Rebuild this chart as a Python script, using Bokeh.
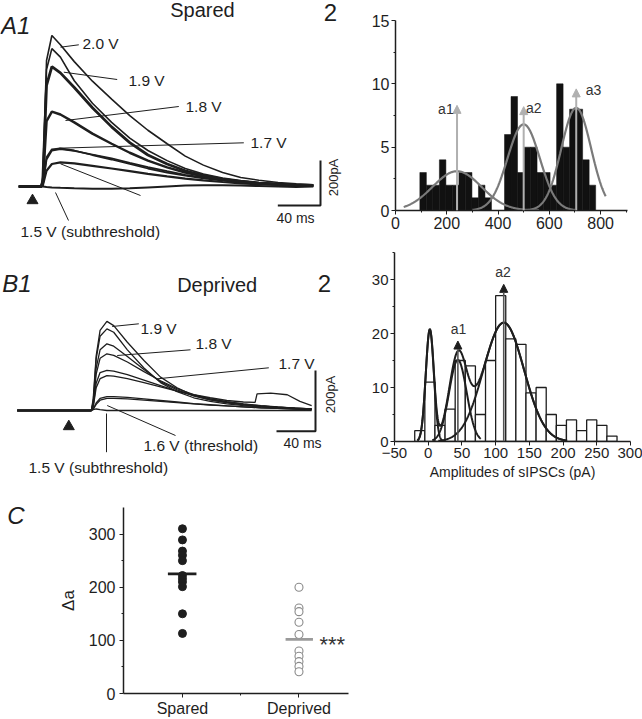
import numpy as np
from bokeh.plotting import figure
from bokeh.layouts import column, row
from bokeh.models import Range1d, Label, Arrow, NormalHead, FixedTicker
from bokeh.embed import file_html
from bokeh.resources import INLINE

FONT = "Liberation Sans"
INK = "#1e1e1e"

# ---------------- data ----------------
# A1 (Spared): evoked IPSCs, time (ms) vs current (pA)
a1_time = [0, 21, 22.5, 26, 31, 39, 52, 69, 87, 104, 121, 139, 156, 173, 191, 208, 225, 243, 260, 276]
a1_2p0 = [0, 0, 40, 560, 671, 630, 555, 468, 388, 315, 250, 190, 135, 95, 62, 40, 28, 18, 12, 8]
a1_1p95 = [0, 0, 30, 520, 613, 575, 470, 370, 285, 215, 160, 115, 80, 55, 38, 26, 18, 12, 8, 5]
a1_1p9 = [0, 0, 25, 450, 533, 505, 440, 350, 265, 195, 140, 100, 70, 48, 33, 22, 15, 10, 7, 5]
a1_1p8 = [0, 0, 15, 290, 333, 320, 285, 235, 190, 150, 115, 85, 62, 45, 32, 22, 15, 10, 7, 5]
a1_1p7a = [0, 0, 8, 130, 165, 169, 160, 140, 120, 100, 80, 62, 48, 36, 26, 18, 12, 8, 5, 3]
a1_1p7b = [0, 0, 6, 120, 160, 166, 158, 142, 125, 105, 86, 68, 52, 40, 30, 22, 15, 10, 6, 4]
a1_1p6 = [0, 0, 5, 70, 100, 107, 103, 92, 80, 68, 56, 45, 35, 27, 20, 14, 10, 7, 5, 3]
a1_1p5 = [0, 0, 0, -2, -4, -6, -8, -10, -10, -8, -4, 0, 4, 6, 6, 4, 2, 0, -2, 0]

# B1 (Deprived)
b1_time = [0, 76, 78, 81, 85, 92, 99, 113, 130, 147, 164, 181, 198, 215, 232, 250, 267, 285, 302]
b1_1p9a = [0, 0, 40, 180, 264, 294, 280, 225, 165, 110, 75, 49, 35, 26, 19, 14, 11, 8, 5]
b1_1p9b = [0, 0, 30, 170, 245, 269, 258, 200, 140, 92, 62, 42, 30, 22, 16, 12, 9, 6, 4]
b1_1p8a = [0, 0, 25, 140, 200, 220, 212, 178, 135, 95, 68, 48, 35, 26, 19, 14, 10, 7, 5]
b1_1p8b = [0, 0, 20, 120, 172, 187, 182, 160, 128, 98, 72, 52, 38, 28, 21, 15, 11, 8, 5]
b1_1p7a = [0, 0, 15, 90, 125, 132, 130, 118, 100, 82, 64, 50, 38, 29, 22, 16, 12, 8, 5]
b1_1p6a = [0, 0, 5, 25, 40, 46, 46, 43, 38, 33, 28, 23, 19, 15, 12, 9, 7, 5, 3]
b1_1p6b = [0, 0, 4, 20, 34, 40, 40, 38, 34, 30, 26, 22, 18, 15, 12, 9, 7, 5, 3]
b1_1p5 = [0, 0, 3, 5, 3, 0, 0, 0, 0, 0, 0, 0, 0, 0, 0, 0, 0, 0, 0]
b1_event_time = [0, 76, 78, 81, 85, 92, 99, 113, 130, 147, 164, 181, 198, 215, 232, 244, 246, 260, 277, 290, 302]
b1_1p7b = [0, 0, 12, 75, 105, 115, 113, 105, 92, 78, 64, 52, 42, 33, 28, 27, 55, 57, 52, 30, 16]

# A2 histogram (Spared) amplitudes (pA), counts
a2_bin_start = 95
a2_bin_width = 25.4
a2_counts = [3, 2, 2, 4, 2, 2, 3, 3, 1, 2, 1, 0, 0, 6, 9, 3, 5, 5, 3, 3, 2, 10, 5, 8, 8, 4, 2]
a2_fit_mean = [240, 500, 705]
a2_fit_sd = [95, 63, 58]
a2_fit_peak = [3.1, 6.8, 8.1]
a2_fit_lo = [32, 300, 480]
a2_fit_hi = [560, 700, 820]
a2_peak_names = ["a1", "a2", "a3"]
a2_arrow_top = [8.3, 8.2, 9.6]
a2_xticks = [0, 200, 400, 600, 800]
a2_yticks = [0, 5, 10, 15]

# B2 histogram (Deprived)
b2_bin_start = -20
b2_bin_width = 15
b2_counts = [2, 11, 3, 6, 15, 14, 5, 15, 27, 19, 18, 9, 10, 5, 3, 4, 2, 4, 3, 1]
b2_fit_mean = [2.4, 44, 112]
b2_fit_sd = [6, 13, 30]
b2_fit_peak = [20.7, 15.1, 22]
b2_fit_lo = [-16, 6, 15]
b2_fit_hi = [21, 78, 206]
b2_arrow_x = [44, 112]
b2_arrow_top = [18.6, 29.1]
b2_peak_names = ["a1", "a2"]
b2_xticks = [-50, 0, 50, 100, 150, 200, 250, 300]
b2_yticks = [0, 10, 20, 30]

# C: delta a per cell
c_groups = ["Spared", "Deprived"]
c_spared = [310, 289, 268, 260, 250, 222, 216, 210, 201, 150, 113]
c_deprived = [200, 161, 154, 134, 111, 80, 70, 60, 51, 41]
c_means = [225, 102]
c_yticks = [0, 100, 200, 300]


# ---------------- helpers ----------------
def blank(w, h, xr, yr):
    p = figure(width=w, height=h, x_range=xr, y_range=yr, output_backend="svg",
               toolbar_location=None, title=None, min_border=0, frame_align=False,
               x_axis_type=None, y_axis_type=None)
    p.grid.visible = False
    p.outline_line_color = None
    return p


def lab(p, x, y, text, size, align="left", baseline="middle", style="normal", angle=0.0, color=INK):
    p.add_layout(Label(x=x, y=y, text=text, text_font=FONT, text_font_size=size,
                       text_align=align, text_baseline=baseline, text_font_style=style,
                       angle=angle, text_color=color))


def style_axes(p, size):
    for ax in list(p.xaxis) + list(p.yaxis):
        ax.axis_line_color = INK
        ax.axis_line_width = 1.5
        ax.major_tick_line_color = INK
        ax.minor_tick_line_color = INK
        ax.major_tick_in = 0
        ax.major_tick_out = 4
        ax.minor_tick_in = 0
        ax.minor_tick_out = 2
        ax.major_label_text_font = FONT
        ax.major_label_text_font_size = size
        ax.major_label_text_color = INK
        ax.major_label_standoff = 2
    p.grid.visible = False
    p.outline_line_color = None


def gauss(mu, sd, pk, lo, hi):
    x = np.linspace(lo, hi, 240)
    return x, pk * np.exp(-((x - mu) ** 2) / (2 * sd ** 2))


# ---------------- A1 ----------------
ax_ = lambda px: (px - 18.3) / 1.067
ay_ = lambda py: (186 - py) / 0.225
pA1 = blank(368, 240, Range1d(ax_(0), ax_(368)), Range1d(ay_(240), ay_(0)))
for ys, w in [(a1_1p5, 2.0), (a1_1p6, 2.2), (a1_1p7a, 1.8), (a1_1p7b, 1.8), (a1_1p8, 2.5),
              (a1_1p9, 2.8), (a1_1p95, 1.6), (a1_2p0, 1.6)]:
    pA1.line(a1_time, ys, line_color=INK, line_width=w)
pA1.segment(x0=[ax_(60), ax_(63.3), ax_(65), ax_(58.3), ax_(60), ax_(55)],
            y0=[ay_(46.7), ay_(71.7), ay_(120), ay_(147.7), ay_(163.3), ay_(192)],
            x1=[ax_(78.3), ax_(116.7), ax_(178.3), ax_(243.3), ax_(140), ax_(68)],
            y1=[ay_(44.3), ay_(79), ay_(106), ay_(142.3), ay_(195), ay_(220)],
            line_color=INK, line_width=1)
sbx, sby = ax_(320), ay_(205)
pA1.line([sbx - 40, sbx, sbx], [sby, sby, sby + 200], line_color=INK, line_width=2)
pA1.scatter([ax_(32)], [ay_(200)], marker="triangle", size=11, color=INK)
lab(pA1, ax_(0.5), ay_(25), "A1", "24px", style="italic")
lab(pA1, ax_(202), ay_(9.5), "Spared", "20px", align="center")
lab(pA1, ax_(330), ay_(12), "2", "24px", align="center")
for txt, px, py in [("2.0 V", 82, 43), ("1.9 V", 128, 80), ("1.8 V", 185, 106), ("1.7 V", 250, 142),
                    ("1.5 V (subthreshold)", 20, 231)]:
    lab(pA1, ax_(px), ay_(py), txt, "15.5px")
lab(pA1, ax_(333), ay_(177), "200pA", "13px", align="center", angle=np.pi / 2)
lab(pA1, ax_(295), ay_(217), "40 ms", "14px", align="center")

# ---------------- B1 ----------------
bx_ = lambda px: (px - 16.7) / 0.975
by_ = lambda py: (410 - py) / 0.3033
pB1 = blank(368, 242, Range1d(bx_(0), bx_(368)), Range1d(by_(482), by_(240)))
for ys in [b1_1p5, b1_1p6b, b1_1p6a, b1_1p7a, b1_1p8b, b1_1p8a, b1_1p9b, b1_1p9a]:
    pB1.line(b1_time, ys, line_color=INK, line_width=1.3)
pB1.line(b1_event_time, b1_1p7b, line_color=INK, line_width=1.3)
pB1.segment(x0=[bx_(111.7), bx_(116.7), bx_(156.7), bx_(106.7), bx_(106)],
            y0=[by_(326), by_(355), by_(378.3), by_(405), by_(413)],
            x1=[bx_(138.3), bx_(190), bx_(268.3), bx_(175), bx_(106)],
            y1=[by_(323.3), by_(349.3), by_(367.3), by_(435), by_(451.7)],
            line_color=INK, line_width=1)
sbx, sby = bx_(315), by_(430.7)
pB1.line([sbx - 40, sbx, sbx], [sby, sby, sby + 200], line_color=INK, line_width=2)
pB1.scatter([bx_(68.3)], [by_(426)], marker="triangle", size=11, color=INK)
lab(pB1, bx_(1.7), by_(282.5), "B1", "24px", style="italic")
lab(pB1, bx_(216.7), by_(284), "Deprived", "20px", align="center")
lab(pB1, bx_(324), by_(283), "2", "24px", align="center")
for txt, px, py in [("1.9 V", 140, 328), ("1.8 V", 195, 343.3), ("1.7 V", 278, 362.5),
                    ("1.6 V (threshold)", 143, 445), ("1.5 V (subthreshold)", 28, 466.7)]:
    lab(pB1, bx_(px), by_(py), txt, "15.5px")
lab(pB1, bx_(330), by_(394), "200pA", "13px", align="center", angle=np.pi / 2)
lab(pB1, bx_(302), by_(442), "40 ms", "14px", align="center")

# ---------------- A2 ----------------
pA2 = figure(width=274, height=240, x_range=Range1d(0, 905), y_range=Range1d(0, 15),
             output_backend="svg", toolbar_location=None, title=None, frame_align=False,
             min_border_left=25, min_border_right=15, min_border_top=20, min_border_bottom=30)
left = [a2_bin_start + i * a2_bin_width for i in range(len(a2_counts))]
pA2.quad(left=left, right=[l + a2_bin_width for l in left], bottom=0, top=a2_counts,
         fill_color="#111111", line_color="#111111", line_width=0.5)
for i, nm in enumerate(a2_peak_names):
    pA2.add_layout(Arrow(end=NormalHead(size=8, fill_color="#b0b0b0", line_color="#b0b0b0"),
                         x_start=a2_fit_mean[i], y_start=0, x_end=a2_fit_mean[i], y_end=a2_arrow_top[i],
                         line_color="#b0b0b0", line_width=2))
for mu, sd, pk, lo, hi in zip(a2_fit_mean, a2_fit_sd, a2_fit_peak, a2_fit_lo, a2_fit_hi):
    gx, gy = gauss(mu, sd, pk, lo, hi)
    pA2.line(gx, gy, line_color="#7a7a7a", line_width=2.2)
lab(pA2, 227, 8.05, "a1", "14px", align="right", color="#333333")
lab(pA2, 509, 8.1, "a2", "14px", color="#333333")
lab(pA2, 742, 9.5, "a3", "14px", color="#333333")
pA2.xaxis.ticker = FixedTicker(ticks=a2_xticks, minor_ticks=[100, 300, 500, 700, 900])
pA2.yaxis.ticker = FixedTicker(ticks=a2_yticks, minor_ticks=[2.5, 7.5, 12.5])
style_axes(pA2, "16px")

# ---------------- B2 ----------------
pB2 = figure(width=274, height=242, x_range=Range1d(-50, 300), y_range=Range1d(0, 35),
             output_backend="svg", toolbar_location=None, title=None, frame_align=False,
             min_border_left=26, min_border_right=12, min_border_top=12, min_border_bottom=41)
left = [b2_bin_start + i * b2_bin_width for i in range(len(b2_counts))]
pB2.quad(left=left, right=[l + b2_bin_width for l in left], bottom=0, top=b2_counts,
         fill_color="white", line_color=INK, line_width=1.3)
for i, nm in enumerate(b2_peak_names):
    pB2.add_layout(Arrow(end=NormalHead(size=8, fill_color=INK, line_color=INK),
                         x_start=b2_arrow_x[i], y_start=0, x_end=b2_arrow_x[i], y_end=b2_arrow_top[i],
                         line_color="#555555", line_width=1.6))
sx = np.linspace(-16, 206, 400)
sy = np.zeros_like(sx)
for mu, sd, pk, lo, hi in zip(b2_fit_mean, b2_fit_sd, b2_fit_peak, b2_fit_lo, b2_fit_hi):
    gx, gy = gauss(mu, sd, pk, lo, hi)
    pB2.line(gx, gy, line_color=INK, line_width=2)
    sy = sy + pk * np.exp(-((sx - mu) ** 2) / (2 * sd ** 2))
pB2.line(sx, sy, line_color=INK, line_width=2)
lab(pB2, 45, 20.8, "a1", "14px", align="center", color="#333333")
lab(pB2, 111, 31.4, "a2", "14px", align="center", color="#333333")
pB2.xaxis.ticker = FixedTicker(ticks=b2_xticks)
pB2.yaxis.ticker = FixedTicker(ticks=b2_yticks, minor_ticks=[5, 15, 25, 35])
style_axes(pB2, "15px")
pB2.xaxis.axis_label = "Amplitudes of sIPSCs (pA)"
pB2.xaxis.axis_label_text_font = FONT
pB2.xaxis.axis_label_text_font_size = "14px"
pB2.xaxis.axis_label_text_font_style = "normal"
pB2.xaxis.axis_label_text_color = INK
pB2.xaxis.axis_label_standoff = 3

# ---------------- C ----------------
pCL = blank(50, 237, Range1d(0, 50), Range1d(719, 482))
lab(pCL, 6.7, 515, "C", "24px", style="italic")

C_X0, C_X1 = 0.494, 2.425
pC = figure(width=310, height=237, x_range=Range1d(C_X0, C_X1), y_range=Range1d(0, 350),
            output_backend="svg", toolbar_location=None, title=None, frame_align=False,
            min_border_left=73, min_border_right=12, min_border_top=25, min_border_bottom=24)
pC.scatter([1] * len(c_spared), c_spared, size=8, fill_color=INK, line_color=INK)
pC.scatter([2] * len(c_deprived), c_deprived, size=8, fill_color="white", line_color="#8a8a8a", line_width=1.1)
pC.segment(x0=[1 - 0.125, 2 - 0.115], y0=c_means, x1=[1 + 0.12, 2 + 0.12], y1=c_means,
           line_color=[INK, "#9a9a9a"], line_width=2.8)
lab(pC, 2.176, 93, "***", "22px", color="#333333")
pC.xaxis.ticker = FixedTicker(ticks=[1, 2], minor_ticks=[1.5])
pC.xaxis.major_label_overrides = {1: c_groups[0], 2: c_groups[1]}
pC.yaxis.ticker = FixedTicker(ticks=c_yticks, minor_ticks=[50, 150, 250])
style_axes(pC, "16px")
pC.yaxis.major_label_standoff = 4
pC.yaxis.axis_label = "Δa"
pC.yaxis.axis_label_text_font = FONT
pC.yaxis.axis_label_text_font_size = "17px"
pC.yaxis.axis_label_text_font_style = "normal"
pC.yaxis.axis_label_text_color = INK
pC.yaxis.axis_label_standoff = 8

layout = column(row(pA1, pA2), row(pB1, pB2), row(pCL, pC))
open("out.html", "w").write(file_html(layout, INLINE))
